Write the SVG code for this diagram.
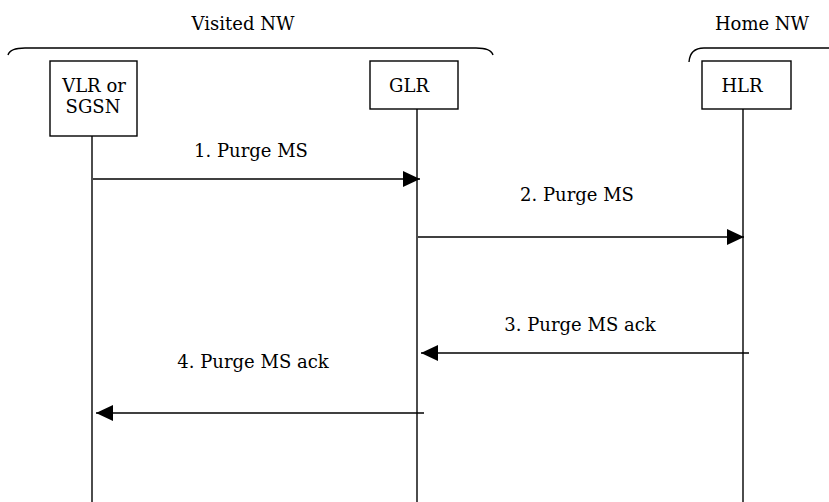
<svg xmlns="http://www.w3.org/2000/svg" width="829" height="502" viewBox="0 0 829 502">
<style>
text{font-family:"DejaVu Serif","Liberation Serif",serif;font-size:18px;fill:#000;text-anchor:middle}
.box{fill:#fff;stroke:#000;stroke-width:1.4}
.life{stroke:#000;stroke-width:1.4}
.msg{stroke:#000;stroke-width:1.4;fill:none}
.brace{stroke:#000;stroke-width:1.4;fill:none}
</style>
<defs>
<marker id="ah" viewBox="0 0 17 16" refX="17" refY="8" markerWidth="17" markerHeight="16" markerUnits="userSpaceOnUse" orient="auto">
<path d="M0,0 L17,8 L0,16 Z" fill="#000"/>
</marker>
</defs>
<g id="groups">
<text x="243" y="30">Visited NW</text>
<path class="brace" d="M8,55 Q10,48 25,48 L476,48 Q491,48 493,55"/>
<text x="762" y="30">Home NW</text>
<path class="brace" d="M689,62 Q690,48 704,48 L829,48"/>
</g>
<g id="lifelines">
<line class="life" x1="92" y1="136" x2="92" y2="502"/>
<line class="life" x1="417" y1="109" x2="417" y2="502"/>
<line class="life" x1="743" y1="109" x2="743" y2="502"/>
</g>
<g id="vlr">
<rect class="box" x="50" y="61" width="87" height="75"/>
<text x="94" y="92">VLR or</text>
<text x="93" y="113">SGSN</text>
</g>
<g id="glr">
<rect class="box" x="370" y="61" width="88" height="48"/>
<text x="409" y="92">GLR</text>
</g>
<g id="hlr">
<rect class="box" x="702" y="61" width="89" height="48"/>
<text x="742" y="92">HLR</text>
</g>
<g id="connectors">
<line class="msg" x1="93" y1="179" x2="420" y2="179" marker-end="url(#ah)"/>
<text x="251" y="157">1. Purge MS</text>
<line class="msg" x1="418" y1="237" x2="744" y2="237" marker-end="url(#ah)"/>
<text x="577" y="201">2. Purge MS</text>
<line class="msg" x1="749" y1="353" x2="421" y2="353" marker-end="url(#ah)"/>
<text x="580" y="331">3. Purge MS ack</text>
<line class="msg" x1="424" y1="413" x2="96" y2="413" marker-end="url(#ah)"/>
<text x="253" y="368">4. Purge MS ack</text>
</g>
</svg>
